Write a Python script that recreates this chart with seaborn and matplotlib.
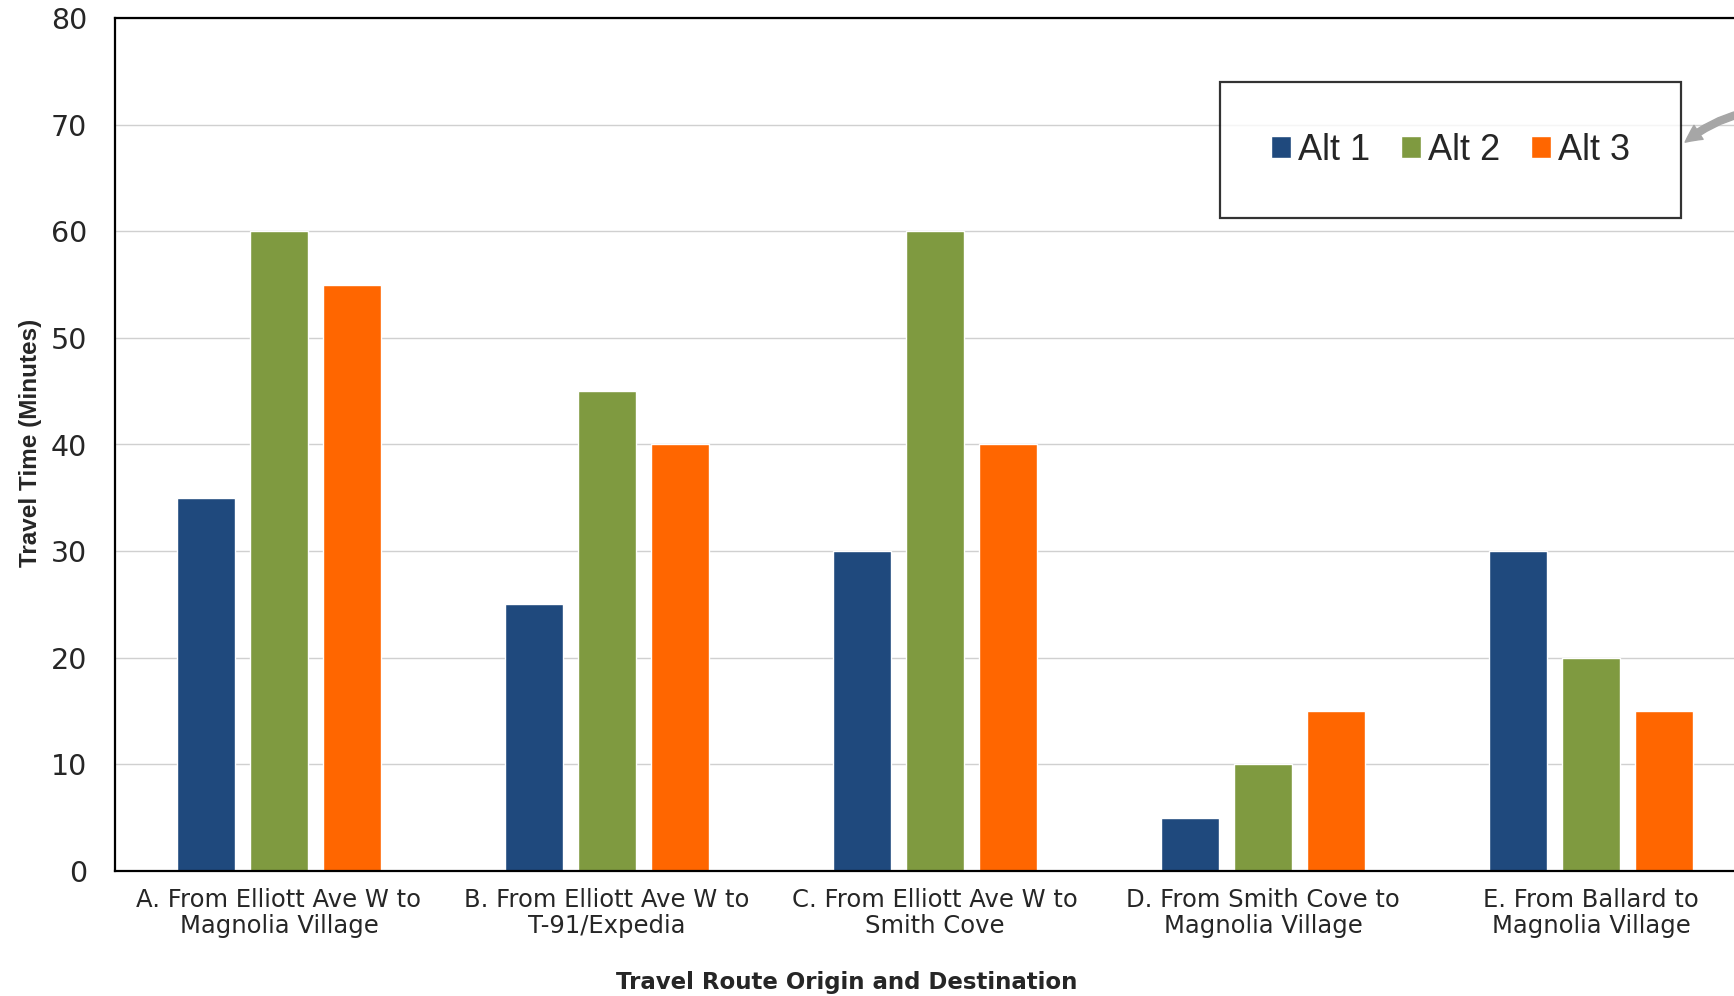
import matplotlib
matplotlib.use("Agg")
import matplotlib.pyplot as plt
import seaborn as sns
import pandas as pd

routes = ["A. From Elliott Ave W to\nMagnolia Village",
          "B. From Elliott Ave W to\nT-91/Expedia",
          "C. From Elliott Ave W to\nSmith Cove",
          "D. From Smith Cove to\nMagnolia Village",
          "E. From Ballard to\nMagnolia Village"]
alternatives = ["Alt 1", "Alt 2", "Alt 3"]
alt1 = [35, 25, 30, 5, 30]
alt2 = [60, 45, 60, 10, 20]
alt3 = [55, 40, 40, 15, 15]
yticks = [0, 10, 20, 30, 40, 50, 60, 70, 80]

colors = ["#1F497D", "#7F9A40", "#FF6600"]

rows = []
for alt, vals in zip(alternatives, [alt1, alt2, alt3]):
    for r, v in zip(routes, vals):
        rows.append({"Route": r, "Alt": alt, "Minutes": v})
df = pd.DataFrame(rows)

sns.set_style("white")
plt.rcParams['font.family'] = ['Liberation Sans', 'DejaVu Sans']

fig = plt.figure(figsize=(17.34, 9.96), dpi=100)
W, H = 1734, 996
ax = fig.add_axes([115 / W, 1 - 871 / H, (1755 - 115) / W, (871 - 18) / H])

sns.barplot(data=df, x="Route", y="Minutes", hue="Alt", palette=colors,
            width=0.667, gap=0.21, ax=ax, saturation=1, legend=True)

ax.set_xlim(-0.5, 4.5)
ax.set_ylim(0, 80)
ax.set_yticks(yticks)
ax.yaxis.grid(True, color="#D0D0D0", linewidth=1)
ax.set_axisbelow(True)
for s in ["left", "top", "bottom", "right"]:
    ax.spines[s].set_color("black")
    ax.spines[s].set_linewidth(1.6)
ax.tick_params(axis="both", length=0)
ax.tick_params(axis="y", pad=20)
ax.tick_params(axis="x", pad=12)
for lab in ax.get_yticklabels():
    lab.set_fontfamily("DejaVu Sans")
    lab.set_fontsize(20.5)
for lab in ax.get_xticklabels():
    lab.set_fontfamily("DejaVu Sans")
    lab.set_fontsize(17.5)
    lab.set_linespacing(1.1)

ax.set_xlabel("")
ax.set_ylabel("")
fig.text(30 / W, 1 - 443 / H, "Travel Time (Minutes)", rotation=90,
         ha="center", va="center", fontsize=17.5, fontweight="bold")
fig.text(847 / W, 1 - 982 / H, "Travel Route Origin and Destination",
         ha="center", va="center", fontsize=16.5, fontweight="bold",
         family="DejaVu Sans")

handles, labels = ax.get_legend_handles_labels()
leg = ax.legend(handles, labels, ncol=3, fontsize=26,
                loc="center", bbox_to_anchor=(((1223 + 1678) / 2 - 115) / 1640, (871 - 150) / 853),
                frameon=True, fancybox=False, edgecolor="black",
                handlelength=0.55, handleheight=0.55, handletextpad=0.2,
                columnspacing=0.85, borderpad=1.4)
leg.get_frame().set_linewidth(1.6)

ax.annotate("", xy=(1683 / W, 1 - 144 / H), xycoords="figure fraction",
            xytext=(1760 / W, 1 - 110 / H), textcoords="figure fraction",
            arrowprops=dict(arrowstyle="simple,head_width=1.2,head_length=1.2,tail_width=0.5",
                            color="#A6A6A6", connectionstyle="arc3,rad=0.15"),
            annotation_clip=False)

fig.savefig("out.png", dpi=100)
